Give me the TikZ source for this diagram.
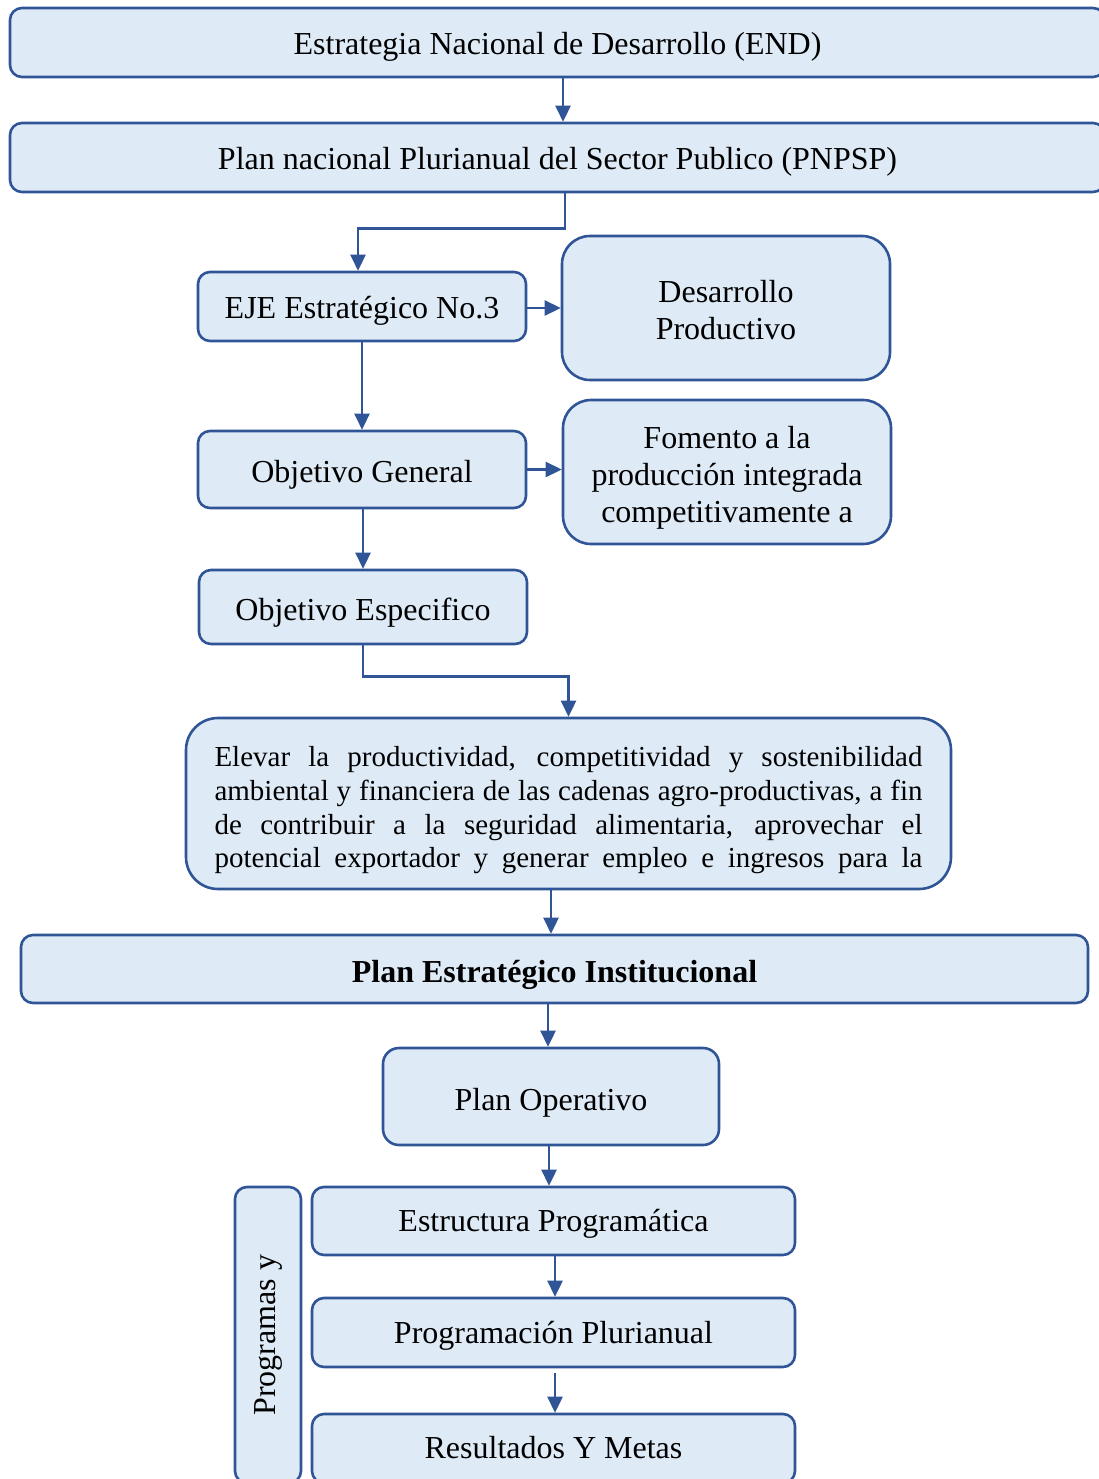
\documentclass[tikz,border=0pt]{standalone}
\usepackage{fontspec}
\setmainfont{Liberation Serif}
\usetikzlibrary{arrows.meta,calc}
\definecolor{bordercol}{HTML}{2F5597}
\definecolor{fillcol}{HTML}{DEEAF6}
\newcommand\fsA{\fontsize{32}{37}\selectfont}
\newcommand\fsB{\fontsize{29}{33.7}\selectfont}
\newcommand\lo[2]{\raisebox{-#1pt}[\height][\depth]{\begin{tabular}{@{}c@{}}#2\end{tabular}}}
\begin{document}
\begin{tikzpicture}[x=1pt,y=-1pt,
  box/.style={draw=bordercol, fill=fillcol, line width=2.6pt, rounded corners=12pt,
    inner sep=0pt, font=\fsA},
  arr/.style={draw=bordercol, line width=2.6pt, -{Triangle[length=16pt,width=15pt]}}]
\useasboundingbox (0,0) rectangle (1099,1479);

\node[box, minimum width=1095pt, minimum height=69pt] (end) at (557.5,42.5) {\lo{5}{Estrategia Nacional de Desarrollo (END)}};
\node[box, minimum width=1095pt, minimum height=69pt] (pnpsp) at (557.5,157.5) {\lo{5}{Plan nacional Plurianual del Sector Publico (PNPSP)}};
\node[box, minimum width=328pt, minimum height=69pt] (eje) at (362,306.5) {\lo{5}{EJE Estratégico No.3}};
\node[box, rounded corners=28pt, minimum width=328pt, minimum height=144pt] (des) at (726,308) {\lo{6}{Desarrollo\\Productivo}};
\node[box, minimum width=328pt, minimum height=77pt] (objgen) at (362,469.5) {\lo{6}{Objetivo General}};
\node[box, rounded corners=28pt, minimum width=328pt, minimum height=144pt] (fom) at (727,472) {\lo{6.5}{Fomento a la\\producción integrada\\competitivamente a}};
\node[box, minimum width=328pt, minimum height=74pt] (objesp) at (363,607) {\lo{6}{Objetivo Especifico}};
\node[box, rounded corners=32pt, minimum width=765pt, minimum height=171pt] (elev) at (568.5,803.5)
  {\raisebox{-7pt}[\height][\depth]{\parbox{708pt}{\fsB\tolerance=10000\hyphenpenalty=10000\parfillskip=0pt\relax
  Elevar la productividad, competitividad y sostenibilidad\linebreak
  ambiental y financiera de las cadenas agro-productivas, a fin\linebreak
  de contribuir a la seguridad alimentaria, aprovechar el\linebreak
  potencial exportador y generar empleo e ingresos para la}}};
\node[box, minimum width=1067pt, minimum height=68pt, font=\fsA\bfseries] (pei) at (554.5,969) {\lo{6}{Plan Estratégico Institucional}};
\node[box, rounded corners=16pt, minimum width=336pt, minimum height=97pt] (po) at (551,1096.5) {\lo{7}{Plan Operativo}};
\node[box, minimum width=483pt, minimum height=68pt] (estr) at (553.5,1221) {\lo{3}{Estructura Programática}};
\node[box, minimum width=483pt, minimum height=69pt] (prog) at (553.5,1332.5) {\lo{4}{Programación Plurianual}};
\node[box, minimum width=483pt, minimum height=69pt] (res) at (553.5,1448.5) {\lo{3}{Resultados Y Metas}};
\node[box, rotate=90, minimum width=296pt, minimum height=66pt] (pgy) at (268,1335) {\lo{0}{Programas y}};

\draw[arr] ([xshift=5.5pt]end.south) -- ([xshift=5.5pt]end.south |- pnpsp.north);
\draw[arr] ([xshift=7.5pt]pnpsp.south) -- ++(0,35) -| ([xshift=-4pt]eje.north);
\draw[arr] (eje.east |- des.west) -- (des.west);
\draw[arr] (eje.south) -- (objgen.north);
\draw[arr] (objgen.east) -- (objgen.east -| fom.west);
\draw[arr] ([xshift=1pt]objgen.south) -- (objesp.north);
\draw[arr] (objesp.south) -- ++(0,31) -| (elev.north);
\draw[arr] ([xshift=-3.5pt]pei.north |- elev.south) -- ([xshift=-3.5pt]pei.north);
\draw[arr] ([xshift=-3pt]po.north |- pei.south) -- ([xshift=-3pt]po.north);
\draw[arr] ([xshift=-2pt]po.south) -- ([xshift=-2pt]po.south |- estr.north);
\draw[arr] ([xshift=1.5pt]estr.south) -- ([xshift=1.5pt]prog.north);
\draw[arr] ([xshift=1.5pt,yshift=-5pt]prog.south) -- ([xshift=1.5pt]res.north);
\end{tikzpicture}
\end{document}
